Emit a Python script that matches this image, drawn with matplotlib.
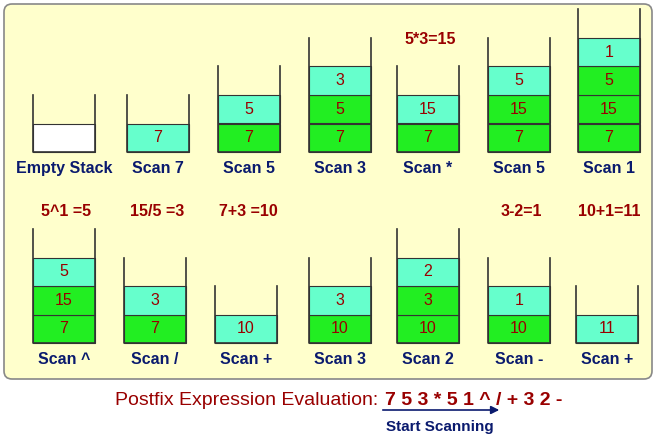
import matplotlib
matplotlib.use("Agg")
import matplotlib.pyplot as plt
from matplotlib.patches import FancyBboxPatch, Rectangle

plt.rcParams['font.family'] = ['Liberation Sans', 'DejaVu Sans']

# data: stacks (bottom -> top), labels, operations
top_stacks = [[], [7], [7, 5], [7, 5, 3], [7, 15], [7, 15, 5], [7, 15, 5, 1]]
top_labels = ["Empty Stack", "Scan 7", "Scan 5", "Scan 3", "Scan *", "Scan 5", "Scan 1"]
top_ops = ["", "", "", "", "5*3=15", "", ""]
bot_stacks = [[7, 15, 5], [7, 3], [10], [10, 3], [10, 3, 2], [10, 1], [11]]
bot_labels = ["Scan ^", "Scan /", "Scan +", "Scan 3", "Scan 2", "Scan -", "Scan +"]
bot_ops = ["5^1 =5", "15/5 =3", "7+3 =10", "", "", "3-2=1", "10+1=11"]
expr_title = "Postfix Expression Evaluation:"
expr = "7 5 3 * 5 1 ^ / + 3 2 -"

W, H = 657, 436
fig = plt.figure(figsize=(W/100, H/100), dpi=100)
ax = fig.add_axes([0, 0, 1, 1])
ax.set_xlim(0, W); ax.set_ylim(H, 0); ax.axis('off')

ax.add_patch(FancyBboxPatch((4, 4), 648, 375, boxstyle="round,pad=0,rounding_size=8",
                            fc="#FFFFCC", ec="#888888", lw=1.2))
DRED = "#990000"; NAVY = "#0A1A6E"
AQUA = "#66FFCC"; GREEN = "#22EE22"
CW, CH = 62, 28.5

def draw(xs, base, stacks, labels, ops, ytext):
    for x, st, lab, op in zip(xs, stacks, labels, ops):
        n = max(len(st), 1)
        if not st:
            ax.add_patch(Rectangle((x, base - CH), CW, CH, fc="white", ec="#333333", lw=0.8))
        for i, v in enumerate(st):
            c = AQUA if i == len(st) - 1 else GREEN
            y0 = base - (i + 1) * CH
            ax.add_patch(Rectangle((x, y0), CW, CH, fc=c, ec="#333333", lw=0.8))
            ax.text(x + CW/2, y0 + CH/2, str(v), ha='center', va='center', color=DRED, fontsize=11.5)
        top = base - (n + 1) * CH
        ax.plot([x, x, x + CW, x + CW], [top, base, base, top], color="#333333", lw=1.2)
        ax.text(x + CW/2, base + 16, lab, ha='center', va='center', color=NAVY,
                fontsize=11.5, fontweight='bold')
        if op:
            ax.text(x + CW/2 + 2, ytext, op, ha='center', va='center', color=DRED,
                    fontsize=11.5, fontweight='bold')

draw([33, 127, 218, 309, 397, 488, 578], 152, top_stacks, top_labels, top_ops, 40)
draw([33, 124, 215, 309, 397, 488, 576], 343, bot_stacks, bot_labels, bot_ops, 211)

ax.text(378, 400, expr_title, ha='right', va='center', color=DRED, fontsize=14)
ax.text(385, 400, expr, ha='left', va='center', color=DRED, fontsize=14, fontweight='bold')
ax.annotate("", xy=(502, 410), xytext=(380, 410),
            arrowprops=dict(arrowstyle="-|>", color=NAVY, lw=1.2, mutation_scale=12))
ax.text(440, 427, "Start Scanning", ha='center', va='center', color=NAVY,
        fontsize=11, fontweight='bold')
fig.savefig("out.png", dpi=100)
